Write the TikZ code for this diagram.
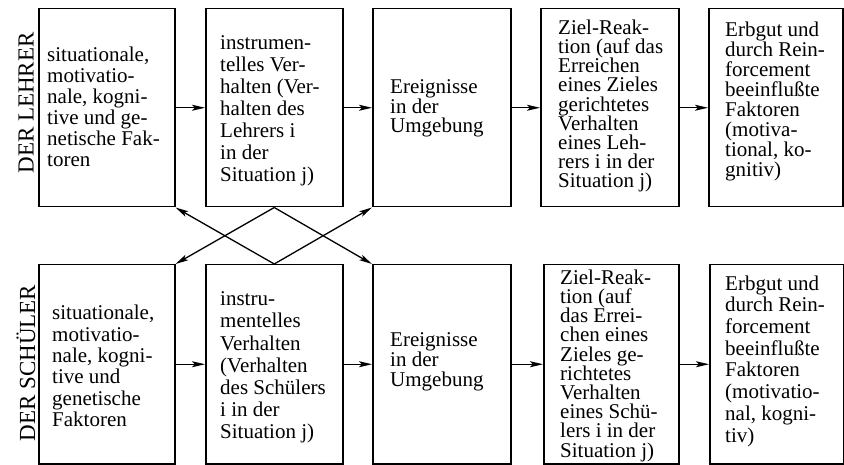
\documentclass[tikz,border=0pt]{standalone}
\usepackage{fontspec}
\setmainfont{Liberation Serif}
\usetikzlibrary{arrows.meta}
\tikzset{
  box/.style={draw, line width=1.5pt, anchor=north west, inner sep=0pt},
  topbox/.style={box, minimum height=198pt},
  botbox/.style={box, minimum height=199pt},
  txt/.style={anchor=west, align=left, inner sep=0pt},
  bs/.style={font=\fontsize{21}{#1}\selectfont},
  lab/.style={rotate=90, inner sep=0pt, font=\fontsize{23}{23}\selectfont},
  conn/.style={line width=1.3pt, -{Stealth[length=13pt,width=6pt,inset=3pt]}}
}
\begin{document}
\begin{tikzpicture}[x=1pt,y=-1pt]
\useasboundingbox (0,0) rectangle (844,465);
% labels
\node[lab] (l1) at (26,103) {DER LEHRER};
\node[lab] (l2) at (26,363) {DER SCHÜLER};
% top row
\node[topbox, minimum width=136pt] (t1) at (38,8) {};
\node[topbox, minimum width=137pt] (t2) at (205,8) {};
\node[topbox, minimum width=138pt] (t3) at (372,8) {};
\node[topbox, minimum width=138pt] (t4) at (540,8) {};
\node[topbox, minimum width=134pt] (t5) at (708,8) {};
% bottom row
\node[botbox, minimum width=136pt] (b1) at (38,264) {};
\node[botbox, minimum width=137pt] (b2) at (205,264) {};
\node[botbox, minimum width=138pt] (b3) at (372,264) {};
\node[botbox, minimum width=135pt] (b4) at (543,264) {};
\node[botbox, minimum width=134pt] (b5) at (709,264) {};
% top texts
\node[txt, bs=21] (t1x) at (47,106.5) {situationale,\\motivatio-\\nale, kogni-\\tive und ge-\\netische Fak-\\toren};
\node[txt, bs=21.9] (t2x) at (220,110.6) {instrumen-\\telles Ver-\\halten (Ver-\\halten des\\Lehrers i\\in der\\Situation j)};
\node[txt, bs=19.5] (t3x) at (390,108.7) {Ereignisse\\in der\\Umgebung};
\node[txt, bs=19.2] (t4x) at (558,106) {Ziel-Reak-\\tion (auf das\\Erreichen\\eines Zieles\\gerichtetes\\Verhalten\\eines Leh-\\rers i in der\\Situation j)};
\node[txt, bs=20] (t5x) at (725,101.7) {Erbgut und\\durch Rein-\\forcement\\beeinflußte\\Faktoren\\(motiva-\\tional, ko-\\gnitiv)};
% bottom texts
\node[txt, bs=21.3] (b1x) at (52,366) {situationale,\\motivatio-\\nale, kogni-\\tive und\\genetische\\Faktoren};
\node[txt, bs=22.2] (b2x) at (220,367.5) {instru-\\mentelles\\Verhalten\\(Verhalten\\des Schülers\\i in der\\Situation j)};
\node[txt, bs=20] (b3x) at (390,361.8) {Ereignisse\\in der\\Umgebung};
\node[txt, bs=19.2] (b4x) at (560,365.6) {Ziel-Reak-\\tion (auf\\das Errei-\\chen eines\\Zieles ge-\\richtetes\\Verhalten\\eines Schü-\\lers i in der\\Situation j)};
\node[txt, bs=21.7] (b5x) at (725,361) {Erbgut und\\durch Rein-\\forcement\\beeinflußte\\Faktoren\\(motivatio-\\nal, kogni-\\tiv)};
% horizontal arrows
\draw[conn] (t1.east) -- (t2.west);
\draw[conn] (t2.east) -- (t3.west);
\draw[conn] (t3.east) -- (t4.west);
\draw[conn] (t4.east) -- (t5.west);
\draw[conn] (b1.east) -- (b2.west);
\draw[conn] (b2.east) -- (b3.west);
\draw[conn] (b3.east) -- (b4.west);
\draw[conn] (b4.east) -- (b5.west);
% cross arrows
\draw[conn] (t2.south) -- (b1.north east);
\draw[conn] (t2.south) -- (b3.north west);
\draw[conn] (b2.north) -- (t1.south east);
\draw[conn] (b2.north) -- (t3.south west);
\end{tikzpicture}
\end{document}
